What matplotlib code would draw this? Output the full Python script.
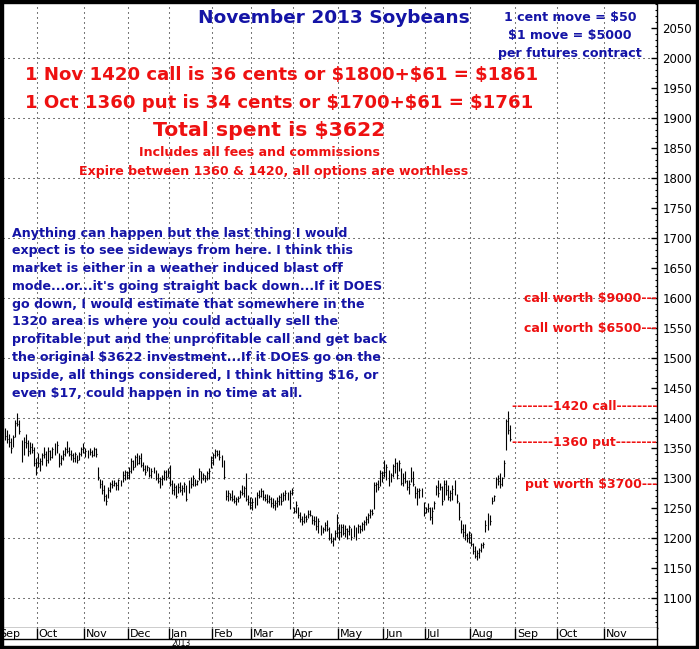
import numpy as np
import pandas as pd
import matplotlib
matplotlib.use('Agg')
import matplotlib.pyplot as plt
from matplotlib.patches import Rectangle
from matplotlib.ticker import MultipleLocator

# daily bars, Nov 2013 soybeans, Sep 7 2012 .. Aug 28 2013
highs = [
    1383, 1380, 1374, 1366, 1372, 1397, 1409, 1397, 1363, 1369, 1374, 1363, 1360, 1358, 1352, 1333,  # sep
    1341, 1333, 1341, 1352, 1345, 1352, 1347, 1352, 1358, 1361, 1341, 1338, 1347, 1352, 1361, 1352,
    1347, 1341, 1344, 1338, 1344, 1352, 1358,  # oct
    1350, 1347, 1350, 1347, 1352, 1350, 1319, 1299, 1297, 1288, 1274, 1285, 1294, 1297, 1296, 1294,
    1299, 1297, 1311, 1314, 1311,  # nov
    1319, 1333, 1330, 1338, 1341, 1338, 1341, 1327, 1322, 1322, 1319, 1316, 1319, 1313, 1308, 1302,
    1305, 1313, 1313, 1316,  # dec
    1322, 1297, 1291, 1288, 1291, 1294, 1288, 1294, 1288, 1297, 1302, 1305, 1299, 1297, 1316, 1311,
    1308, 1305, 1311, 1316, 1336,  # jan
    1341, 1349, 1347, 1347, 1338, 1330, 1280, 1280, 1275, 1280, 1272, 1269, 1270, 1280, 1288, 1286,
    1308, 1272, 1269,  # feb
    1266, 1269, 1277, 1280, 1283, 1280, 1274, 1274, 1272, 1269, 1266, 1263, 1269, 1272, 1275, 1277,
    1280, 1277, 1280, 1283,  # mar
    1252, 1261, 1252, 1244, 1236, 1241, 1239, 1247, 1247, 1238, 1236, 1236, 1233, 1222, 1219, 1227,
    1230, 1219, 1208, 1202, 1213, 1240,  # apr
    1224, 1224, 1224, 1222, 1216, 1222, 1216, 1222, 1219, 1224, 1222, 1227, 1230, 1236, 1241, 1249,
    1249, 1294, 1294, 1296, 1313, 1311,  # may
    1330, 1324, 1313, 1308, 1324, 1333, 1327, 1330, 1316, 1308, 1311, 1297, 1297, 1319, 1311, 1286,
    1283, 1283, 1283, 1260,  # jun
    1252, 1258, 1252, 1252, 1262, 1288, 1297, 1291, 1286, 1297, 1297, 1288, 1280, 1288, 1297, 1274,
    1260, 1230, 1224, 1224, 1208, 1211,  # jul
    1208, 1191, 1186, 1180, 1183, 1191, 1194, 1230, 1242, 1238, 1269, 1272, 1302, 1305, 1308, 1302,
    1330, 1399, 1411, 1388,  # aug
]
lows = [
    1363, 1358, 1352, 1341, 1352, 1369, 1386, 1374, 1327, 1338, 1350, 1336, 1340, 1342, 1320, 1305,
    1319, 1311, 1322, 1333, 1320, 1325, 1330, 1333, 1338, 1341, 1319, 1322, 1330, 1336, 1341, 1336,
    1330, 1327, 1327, 1325, 1330, 1336, 1341,
    1335, 1333, 1338, 1335, 1336, 1335, 1297, 1283, 1274, 1262, 1255, 1266, 1277, 1283, 1286, 1280,
    1280, 1286, 1294, 1297, 1299,
    1299, 1308, 1313, 1319, 1322, 1324, 1319, 1311, 1305, 1311, 1302, 1300, 1308, 1297, 1291, 1283,
    1288, 1297, 1297, 1302,
    1286, 1274, 1272, 1266, 1275, 1277, 1272, 1277, 1261, 1275, 1283, 1286, 1286, 1288, 1297, 1291,
    1297, 1294, 1297, 1299, 1316,
    1322, 1333, 1336, 1330, 1319, 1299, 1263, 1261, 1263, 1261, 1258, 1255, 1260, 1266, 1272, 1269,
    1261, 1255, 1249,
    1247, 1250, 1255, 1266, 1269, 1263, 1261, 1258, 1258, 1252, 1250, 1247, 1252, 1255, 1255, 1261,
    1263, 1263, 1249, 1272,
    1241, 1241, 1233, 1227, 1222, 1225, 1227, 1233, 1236, 1224, 1222, 1213, 1208, 1205, 1208, 1211,
    1211, 1197, 1191, 1186, 1197, 1202,
    1197, 1202, 1205, 1202, 1199, 1205, 1197, 1202, 1197, 1208, 1208, 1211, 1213, 1222, 1225, 1233,
    1238, 1249, 1277, 1280, 1286, 1294,
    1302, 1297, 1286, 1294, 1302, 1308, 1299, 1311, 1288, 1286, 1291, 1280, 1274, 1294, 1286, 1266,
    1255, 1266, 1269, 1236,
    1241, 1244, 1230, 1224, 1248, 1272, 1269, 1280, 1255, 1263, 1272, 1263, 1261, 1263, 1272, 1258,
    1230, 1208, 1202, 1197, 1194, 1191,
    1186, 1174, 1166, 1163, 1166, 1177, 1183, 1210, 1213, 1222, 1256, 1262, 1283, 1288, 1283, 1286,
    1302, 1347, 1374, 1361,
]
closes = [
    1370, 1365, 1360, 1350, 1368, 1392, 1390, 1378, 1340, 1360, 1358, 1345, 1352, 1347, 1325, 1318,
    1325, 1328, 1338, 1340, 1330, 1345, 1335, 1348, 1342, 1355, 1325, 1333, 1340, 1348, 1345, 1340,
    1338, 1333, 1340, 1330, 1340, 1348, 1350,
    1345, 1340, 1343, 1338, 1348, 1340, 1302, 1290, 1280, 1270, 1262, 1280, 1290, 1288, 1292, 1288,
    1296, 1290, 1305, 1310, 1305,
    1312, 1328, 1318, 1335, 1325, 1333, 1322, 1315, 1310, 1318, 1305, 1312, 1310, 1300, 1295, 1298,
    1300, 1310, 1302, 1312,
    1290, 1280, 1285, 1270, 1285, 1280, 1284, 1290, 1265, 1292, 1290, 1300, 1290, 1295, 1312, 1300,
    1305, 1300, 1308, 1312, 1330,
    1338, 1345, 1340, 1335, 1322, 1302, 1270, 1275, 1268, 1265, 1262, 1265, 1266, 1277, 1275, 1283,
    1265, 1260, 1255,
    1260, 1264, 1272, 1270, 1278, 1268, 1265, 1262, 1265, 1258, 1255, 1258, 1262, 1268, 1262, 1272,
    1275, 1270, 1275, 1280,
    1245, 1255, 1238, 1232, 1228, 1235, 1232, 1240, 1238, 1230, 1228, 1220, 1228, 1210, 1215, 1222,
    1215, 1200, 1195, 1198, 1208, 1215,
    1210, 1218, 1208, 1215, 1212, 1218, 1202, 1218, 1214, 1220, 1215, 1224, 1226, 1232, 1238, 1245,
    1242, 1288, 1290, 1285, 1308, 1305,
    1310, 1318, 1292, 1305, 1320, 1325, 1305, 1325, 1292, 1300, 1295, 1285, 1290, 1300, 1290, 1275,
    1278, 1280, 1272, 1242,
    1248, 1250, 1235, 1245, 1258, 1285, 1275, 1285, 1262, 1290, 1280, 1268, 1275, 1282, 1278, 1262,
    1235, 1215, 1210, 1205, 1200, 1205,
    1190, 1178, 1170, 1175, 1180, 1188, 1190, 1222, 1235, 1228, 1262, 1270, 1298, 1295, 1290, 1300,
    1325, 1395, 1380, 1365,
]

holidays = ['2012-11-22', '2012-12-25', '2013-01-01', '2013-01-21', '2013-02-18',
            '2013-03-29', '2013-05-27', '2013-07-04', '2013-09-02', '2013-11-28']
price_ticks = list(range(1100, 2051, 50))
grid_levels = list(range(1100, 2001, 100))

title = 'November 2013 Soybeans'
contract_lines = ['1 cent move = $50', '$1 move = $5000', 'per futures contract']
trade_lines = ['1 Nov 1420 call is 36 cents or $1800+$61 = $1861',
               '1 Oct 1360 put is 34 cents or $1700+$61 = $1761']
total_line = 'Total spent is $3622'
fee_lines = ['Includes all fees and commissions',
             'Expire between 1360 & 1420, all options are worthless']
note_lines = [
    'Anything can happen but the last thing I would',
    'expect is to see sideways from here. I think this',
    'market is either in a weather induced blast off',
    "mode...or...it's going straight back down...If it DOES",
    'go down, I would estimate that somewhere in the',
    '1320 area is where you could actually sell the',
    'profitable put and the unprofitable call and get back',
    'the original $3622 investment...If it DOES go on the',
    'upside, all things considered, I think hitting $16, or',
    'even $17, could happen in no time at all.',
]
# right side level notes: (text, price level)
level_notes = [
    ('call worth $9000---', 1600),
    ('call worth $6500---', 1550),
    ('--------1420 call--------', 1420),
    ('--------1360 put--------', 1360),
    ('put worth $3700---', 1289),
]

RED = '#ee1111'
BLUE = '#1414a6'
FONT = 'DejaVu Sans'

days = pd.bdate_range('2012-09-04', '2013-12-10', freq='C', holidays=holidays)
first = 3  # Sep 7 2012
idx = np.arange(first, first + len(highs))

bounds = [-0.5]
names = [days[0].strftime('%b')]
for i in range(1, len(days)):
    if days[i] > pd.Timestamp('2013-11-30'):
        break
    if days[i].month != days[i - 1].month:
        bounds.append(i - 0.5)
        names.append(days[i].strftime('%b'))

W, H = 699, 649
fig = plt.figure(figsize=(W / 100, H / 100), dpi=100)
fig.patch.set_facecolor('white')


def fx(px):
    return px / W


def fy(py):
    return 1 - py / H


ax = fig.add_axes([fx(3), fy(628), fx(657) - fx(3), fy(3) - fy(628)])
x0, x1 = 2.0, 319.2
ax.set_xlim(x0, x1)
ax.set_ylim(1050, 2091.7)

dot = (0, (1, 3.8))
ax.vlines(bounds, 1050, 2091.7, colors='black', linestyles=dot, lw=0.75, zorder=1)
ax.hlines(grid_levels, x0, x1, colors='black', linestyles=dot, lw=0.75, zorder=1)

ax.vlines(idx, lows, highs, colors='black', lw=0.8, zorder=3)
ax.hlines(closes, idx, idx + 0.45, colors='black', lw=0.8, zorder=3)

ax.yaxis.tick_right()
ax.set_yticks(price_ticks)
ax.yaxis.set_minor_locator(MultipleLocator(10))
ax.tick_params(axis='y', which='major', direction='in', length=4, width=1,
               labelsize=8.5, pad=4, labelcolor='black')
ax.tick_params(axis='y', which='minor', direction='in', length=1.5, width=0.8)
ax.set_xticks([])
for lab in ax.get_yticklabels():
    lab.set_family('DejaVu Sans')
for s in ['left', 'top']:
    ax.spines[s].set_visible(False)
ax.spines['right'].set_linewidth(1.0)
ax.spines['bottom'].set_linewidth(1.0)

# date strip
ax2 = fig.add_axes([fx(3), fy(639), fx(657) - fx(3), fy(628) - fy(639)])
ax2.set_xlim(x0, x1)
ax2.set_ylim(0, 1)
ax2.set_xticks([])
ax2.set_yticks([])
for s in ['left', 'top', 'right']:
    ax2.spines[s].set_visible(False)
ax2.spines['bottom'].set_linewidth(1.0)
ax2.vlines(bounds, 0, 1, colors='black', lw=1.0)
for b, n in zip(bounds, names):
    ax2.text(b + 0.8, 0.42, n, fontsize=8, family='DejaVu Sans', va='center', ha='left',
             clip_on=True)
jan_x = 3 + (bounds[names.index('Jan')] - x0) / (x1 - x0) * 654
fig.text(fx(jan_x + 3), fy(639.5), '2013', fontsize=5.5, family='DejaVu Sans', va='top')
fig.add_artist(plt.Line2D([fx(657), fx(657)], [fy(628), fy(649)], color='black', lw=1.0))

# texts
kw = dict(weight='bold', family=FONT, parse_math=False)
fig.text(fx(334), fy(18), title, color=BLUE, fontsize=13.3, ha='center', va='center', **kw)
for t, yy in zip(contract_lines, [17.5, 36, 53.5]):
    fig.text(fx(570), fy(yy), t, color=BLUE, fontsize=9.1, ha='center', va='center', **kw)
for t, yy in zip(trade_lines, [75, 102.5]):
    fig.text(fx(25), fy(yy), t, color=RED, fontsize=13.1, ha='left', va='center', **kw)
fig.text(fx(269), fy(130.5), total_line, color=RED, fontsize=14.7, ha='center', va='center',
         **kw)
for t, yy, cx in zip(fee_lines, [153, 172], [259.5, 273.5]):
    fig.text(fx(cx), fy(yy), t, color=RED, fontsize=9.1, ha='center', va='center', **kw)
for k, t in enumerate(note_lines):
    fig.text(fx(12), fy(233 + k * 17.8), t, color=BLUE, fontsize=9.1, ha='left', va='center',
             **kw)

tr = ax.get_yaxis_transform()
for t, lvl in level_notes:
    ax.text(1.0, lvl, t, transform=tr, color=RED, fontsize=9, ha='right', va='center', **kw)

# outer black frame
for r in [(0, 0, 3, H), (0, 0, W, 3), (W - 3, 0, 3, H), (0, H - 3, W, 3)]:
    fig.add_artist(Rectangle((fx(r[0]), fy(r[1] + r[3])), r[2] / W, r[3] / H,
                             transform=fig.transFigure, color='black', zorder=10))

fig.savefig('out.png', dpi=100, facecolor='white')
